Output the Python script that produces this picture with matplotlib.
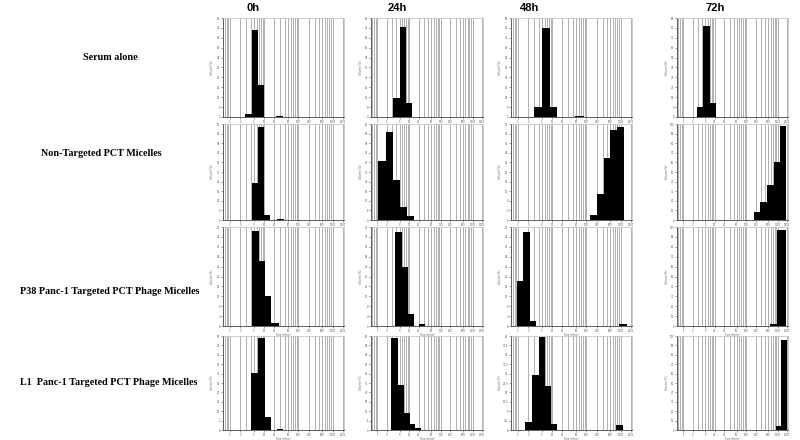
import numpy as np
import matplotlib.pyplot as plt

times = ['0h', '24h', '48h', '72h']
groups = ['Serum alone', 'Non-Targeted PCT Micelles',
          'P38 Panc-1 Targeted PCT Phage Micelles',
          'L1  Panc-1 Targeted PCT Phage Micelles']

# size bin edges (d.nm) and volume (%) per panel, one list per time point
serum_edges = [[2.7, 4.3, 6.7, 10.0, 22.6, 36.7], [3.2, 5.1, 8.0, 12.6],
               [3.0, 5.0, 8.5, 13.5, 47, 83], [2.7, 4.2, 7.0, 10.9]]
serum_pct = [[2.4, 70, 26, 0, 0.8], [15, 73, 11],
             [9, 81, 9, 0, 0.9], [9, 83, 13]]
serum_ymax = [80, 80, 90, 90]

nontarget_edges = [[4.3, 6.7, 10, 15, 24.5, 38.3], [1.03, 1.82, 3.2, 5.2, 8.5, 13.8],
                   [131, 202, 319, 495, 780, 1210], [172, 280, 457, 743, 1210, 1890]]
nontarget_pct = [[23, 58, 3, 0, 0.9], [37, 55, 25, 8, 2.4],
                 [2, 11, 26, 37.6, 38.8], [8, 19, 36, 60, 98]]
nontarget_ymax = [60, 60, 40, 100]

p38_edges = [[4.4, 7.2, 10.9, 16.3, 26.5], [3.5, 6.1, 9.2, 13.8, 20.8, 31.2],
             [0.95, 1.42, 2.3, 3.4, 891, 1530], [582, 948, 1820]]
p38_pct = [[38.4, 26.4, 12, 1.2], [38, 24, 4.8, 0, 0.8],
           [18, 38, 2, 0, 0.8], [2, 97]]
p38_ymax = [40, 40, 40, 100]

l1_edges = [[4.27, 6.67, 10.4, 15.6, 24.5, 36.7], [2.66, 4.4, 6.67, 10.6, 15.9, 24.3],
            [1.65, 2.6, 4.05, 6.04, 9.2, 13.8, 743, 1172], [861, 1313, 2036]]
l1_pct = [[30.5, 49, 7, 0, 0.5], [59, 29, 11, 3.6, 1.2],
          [4, 26.5, 44.5, 21, 2.7, 0, 2.5], [4.5, 96]]
l1_ymax = [50, 60, 45, 100]

all_edges = [serum_edges, nontarget_edges, p38_edges, l1_edges]
all_pct = [serum_pct, nontarget_pct, p38_pct, l1_pct]
all_ymax = [serum_ymax, nontarget_ymax, p38_ymax, l1_ymax]

W, H = 800, 440
fig = plt.figure(figsize=(8, 4.4), dpi=100)

# panel boxes in pixels
col_l = [223, 371, 511, 677]
col_r = [344, 483, 632, 788]
row_t = [18, 124, 227, 336]
row_b = [117, 220, 326, 430]

xmin, xmax = 0.63, 2140
grid_x = [m * 10.0 ** k for k in range(-1, 4) for m in range(1, 10)]
grid_x = [g for g in grid_x if xmin < g < xmax]
label_x = [g for g in grid_x if str(g).lstrip('0.')[0] in '125']

for r in range(4):
    for c in range(4):
        ax = fig.add_axes([col_l[c] / W, 1 - row_b[r] / H,
                           (col_r[c] - col_l[c]) / W, (row_b[r] - row_t[r]) / H])
        ax.set_xscale('log')
        ax.set_xlim(xmin, xmax)
        ax.set_ylim(0, all_ymax[r][c])
        ax.vlines(grid_x, 0, 1, transform=ax.get_xaxis_transform(),
                  color='#b0b0b0', lw=0.7, zorder=0)
        ax.stairs(all_pct[r][c], all_edges[r][c], fill=True,
                  color='black', zorder=2)
        ax.set_xticks(label_x)
        ax.set_xticklabels([f'{g:g}' for g in label_x], fontsize=1.8, color='#555555')
        ax.minorticks_off()
        ymax = all_ymax[r][c]
        ax.set_yticks(np.linspace(0, ymax, 11))
        ax.set_yticklabels([f'{v:g}' for v in np.linspace(0, ymax, 11)],
                           fontsize=1.8, color='#555555')
        ax.tick_params(length=1.2, width=0.4, pad=0.8, colors='#555555')
        for s in ['left', 'bottom']:
            ax.spines[s].set_color('#444444')
            ax.spines[s].set_linewidth(0.6)
        for s in ['top', 'right']:
            ax.spines[s].set_color('#bbbbbb')
            ax.spines[s].set_linewidth(0.5)
        ax.text(0.5, -0.072, 'Size (d.nm)', transform=ax.transAxes,
                ha='center', va='top', fontsize=1.8, color='#555555')
        ax.text(-0.09, 0.5, 'Volume (%)', transform=ax.transAxes, rotation=90,
                ha='center', va='center', fontsize=1.8, color='#555555')

# column headers
head_x = [253, 397, 530, 715]
for x, t in zip(head_x, times):
    fig.text(x / W, 1 - 8 / H, t, ha='center', va='center', fontsize=8,
             fontweight='bold', family='Liberation Sans')

# row labels
lab_x = [110, 101, 110, 109]
lab_y = [57, 153, 291, 382]
for x, y, g in zip(lab_x, lab_y, groups):
    fig.text(x / W, 1 - y / H, g, ha='center', va='center', fontsize=7.3,
             fontweight='bold', family='Liberation Serif')

fig.savefig('out.png', dpi=100)
